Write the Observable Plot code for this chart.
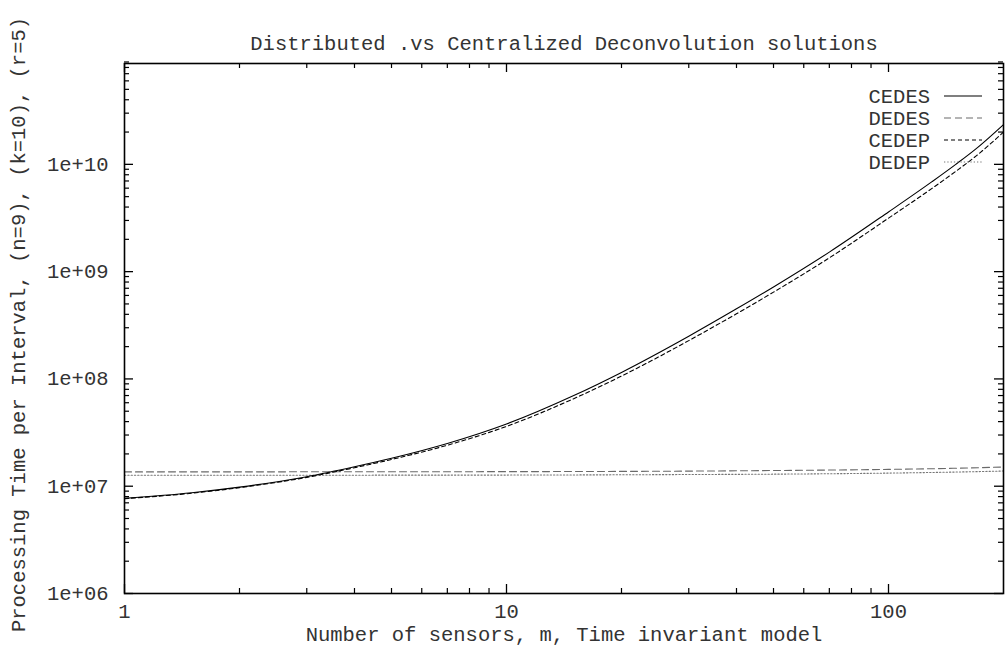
<!DOCTYPE html>
<html><head><meta charset="utf-8">
<script src="https://cdn.jsdelivr.net/npm/d3@7"></script>
<script src="https://cdn.jsdelivr.net/npm/@observablehq/plot@0.6"></script>
<style>body{margin:0;background:#fff} svg{display:block}</style>
</head><body><div id="chart"></div>
<script>
// ---- data ----
const sensorsM = [1, 1.5, 2, 3, 4, 5, 7, 10, 15, 20, 30, 40, 50, 70, 100, 130, 150, 170, 200];
const cedes = [7.7e6, 8.69e6, 9.8e6, 1.227e7, 1.518e7, 1.82e7, 2.5e7, 3.8e7, 7.0e7, 1.15e8, 2.5e8, 4.5e8, 7.2e8, 1.52e9, 3.6e9, 6.9e9, 1.0e10, 1.41e10, 2.35e10];
const cedep = [7.66e6, 8.6e6, 9.7e6, 1.209e7, 1.488e7, 1.775e7, 2.41e7, 3.61e7, 6.55e7, 1.064e8, 2.275e8, 4.05e8, 6.44e8, 1.345e9, 3.15e9, 5.97e9, 8.6e9, 1.206e10, 2.0e10];
const sensorsFlat = [1, 10, 30, 50, 100, 150, 200];
const dedes = [1.36e7, 1.367e7, 1.383e7, 1.4e7, 1.435e7, 1.47e7, 1.51e7];
const dedep = [1.265e7, 1.27e7, 1.285e7, 1.295e7, 1.325e7, 1.355e7, 1.385e7];
const seriesNames = ["CEDES", "DEDES", "CEDEP", "DEDEP"];
const xMajorTicks = [1, 10, 100];
const xMinorTicks = [2,3,4,5,6,7,8,9,20,30,40,50,60,70,80,90];
const yMajorTicks = [1e6, 1e7, 1e8, 1e9, 1e10];
const yMinorTicks = [];
[1e6,1e7,1e8,1e9,1e10].forEach(b => [2,3,4,5,6,7,8,9].forEach(k => yMinorTicks.push(k*b)));
const titleText = "Distributed .vs Centralized Deconvolution solutions";
const xLabelText = "Number of sensors, m, Time invariant model";
const yLabelText = "Processing Time per Interval, (n=9), (k=10), (r=5)";

// ---- layout / style ----
const W = 1005, H = 648, mL = 124, mR = 2, mT = 63, mB = 55;
const frameH = H - mT - mB, frameW = W - mL - mR;
const FONT = "'Liberation Mono', 'Courier New', monospace";
const FS = 20.5;
const TXT = "#333";
const styles = {
  CEDES: {stroke: "#000", dash: null, width: 1.1},
  DEDES: {stroke: "#6a6a6a", dash: "7,4", width: 1.1},
  CEDEP: {stroke: "#000", dash: "4,3", width: 1.1},
  DEDEP: {stroke: "#777", dash: "1.3,2", width: 1.1}
};

const rowsC = sensorsM.map((m, i) => ({m, v: cedes[i]}));
const rowsCP = sensorsM.map((m, i) => ({m, v: cedep[i]}));
const rowsD = sensorsFlat.map((m, i) => ({m, v: dedes[i]}));
const rowsDP = sensorsFlat.map((m, i) => ({m, v: dedep[i]}));

const lineMark = (rows, name) => Plot.line(rows, {
  x: "m", y: "v", curve: "monotone-x",
  stroke: styles[name].stroke, strokeWidth: styles[name].width,
  strokeDasharray: styles[name].dash
});

const plot = Plot.plot({
  width: W, height: H,
  marginLeft: mL, marginRight: mR, marginTop: mT, marginBottom: mB,
  style: {fontFamily: FONT, fontSize: FS + "px", background: "white", color: "black"},
  x: {type: "log", domain: [1, 200]},
  y: {type: "log", domain: [1e6, Math.pow(10, 10.94)]},
  marks: [
    lineMark(rowsD, "DEDES"),
    lineMark(rowsDP, "DEDEP"),
    lineMark(rowsCP, "CEDEP"),
    lineMark(rowsC, "CEDES"),
    // inward ticks on all sides
    Plot.tickX(xMajorTicks, {x: d => d, insetTop: frameH - 9, stroke: "#000", strokeWidth: 1.3}),
    Plot.tickX(xMajorTicks, {x: d => d, insetBottom: frameH - 9, stroke: "#000", strokeWidth: 1.3}),
    Plot.tickX(xMinorTicks, {x: d => d, insetTop: frameH - 5, stroke: "#000", strokeWidth: 1.2}),
    Plot.tickX(xMinorTicks, {x: d => d, insetBottom: frameH - 5, stroke: "#000", strokeWidth: 1.2}),
    Plot.tickY(yMajorTicks, {y: d => d, insetRight: frameW - 9, stroke: "#000", strokeWidth: 1.3}),
    Plot.tickY(yMajorTicks, {y: d => d, insetLeft: frameW - 9, stroke: "#000", strokeWidth: 1.3}),
    Plot.tickY(yMinorTicks, {y: d => d, insetRight: frameW - 5, stroke: "#000", strokeWidth: 1.2}),
    Plot.tickY(yMinorTicks, {y: d => d, insetLeft: frameW - 5, stroke: "#000", strokeWidth: 1.2}),
    Plot.axisX({ticks: xMajorTicks, tickSize: 0, tickPadding: 10, tickFormat: d => String(d), label: null, fontSize: FS, fill: TXT}),
    Plot.axisY({ticks: yMajorTicks, tickSize: 0, tickPadding: 16, label: null, fontSize: FS, fill: TXT,
      tickFormat: d => "1e+" + String(Math.round(Math.log10(d))).padStart(2, "0")}),
    Plot.text([titleText], {text: d => d, frameAnchor: "top", lineAnchor: "middle", dy: -20, fontSize: FS, fill: TXT}),
    Plot.text([xLabelText], {text: d => d, frameAnchor: "bottom", lineAnchor: "middle", dy: 41, fontSize: FS, fill: TXT}),
    Plot.text([yLabelText], {text: d => d, frameAnchor: "left", textAnchor: "middle", lineAnchor: "middle", dx: -106, dy: -4, rotate: -90, fontSize: FS, fill: TXT}),
    Plot.frame({stroke: "#000", strokeWidth: 1.6})
  ]
});

// legend (inside the frame, top-right), like gnuplot's key
const svg = d3.select(plot);
const right = W - mR;
const lg = svg.append("g").attr("font-family", FONT).attr("font-size", FS);
seriesNames.forEach((name, i) => {
  const yy = mT + 33 + 22 * i;
  lg.append("text").attr("x", right - 73).attr("y", yy).attr("dy", "0.35em")
    .attr("text-anchor", "end").attr("fill", TXT).text(name);
  lg.append("line").attr("x1", right - 59).attr("x2", right - 21).attr("y1", yy).attr("y2", yy)
    .attr("stroke", styles[name].stroke).attr("stroke-width", styles[name].width)
    .attr("stroke-dasharray", styles[name].dash);
});

document.getElementById("chart").appendChild(plot);
</script>
</body></html>
